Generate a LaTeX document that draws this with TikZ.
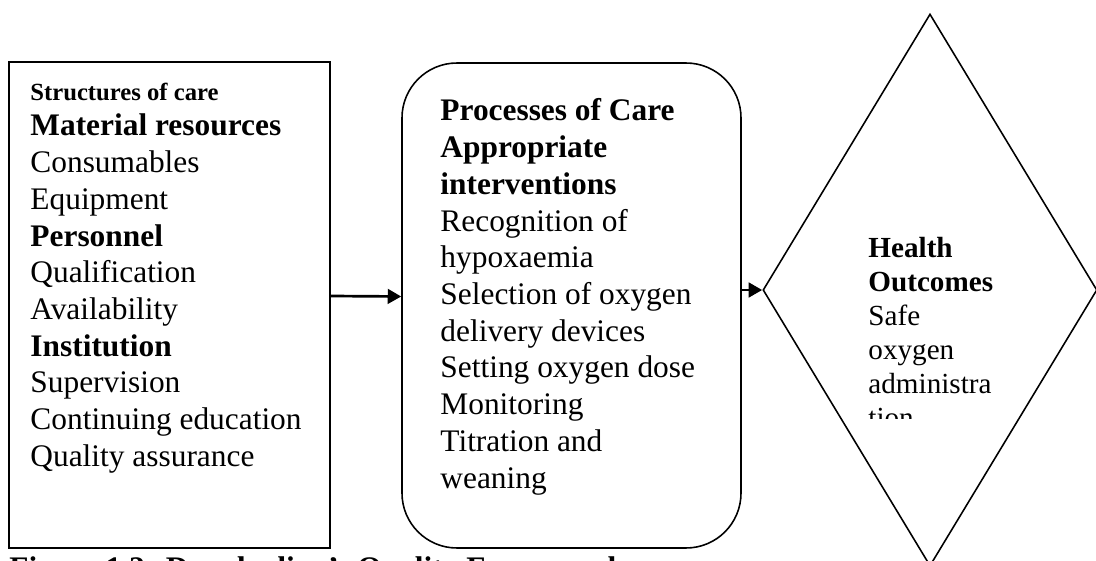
\documentclass[tikz,border=0pt]{standalone}
\usepackage{fontspec}
\setmainfont{Liberation Serif}
\usetikzlibrary{arrows.meta,positioning,shapes.geometric,calc}

\tikzset{
  boxline/.style={draw, line width=0.7pt, inner sep=0pt},
  itemtext/.style={anchor=base west, inner sep=0pt, font=\fontsize{14}{16.4}\selectfont},
  flowarrow/.style={line width=1.2pt, -{Triangle[length=6pt,width=6.5pt]}},
}

\begin{document}
\begin{tikzpicture}[x=0.446pt, y=-0.446pt]
\useasboundingbox (0,0) rectangle (1096,561);
% structures
\node[boxline, minimum width=143.2pt, minimum height=216.8pt] (structbox) at (169.5,305) {};
\node[itemtext, font=\bfseries\fontsize{11}{13}\selectfont] (s0) at (30,101) {Structures of care};
\foreach \txt [count=\i] in {\textbf{Material resources}, Consumables, Equipment, \textbf{Personnel}, Qualification, Availability, \textbf{Institution}, Supervision, Continuing education, Quality assurance}
  \node[itemtext] (s\i) at (30,{136+36.7*(\i-1)}) {\txt};
% processes
\node[boxline, rounded corners=24.5pt, minimum width=151.2pt, minimum height=216.3pt] (procbox) at (571.5,305.5) {};
\foreach \txt [count=\i] in {\textbf{Processes of Care}, \textbf{Appropriate}, \textbf{interventions}, Recognition of, hypoxaemia, Selection of oxygen, delivery devices, Setting oxygen dose, Monitoring, Titration and, weaning}
  \node[itemtext] (p\i) at (440,{121+36.7*(\i-1)}) {\txt};
% outcomes
\node[boxline, diamond, minimum width=149pt, minimum height=246.2pt] (outcome) at (930,290) {};
\begin{scope}
\clip (860,230) rectangle (1010,418);
\foreach \txt [count=\i] in {\textbf{Health}, \textbf{Outcomes}, Safe, oxygen, administra, tion}
  \node[itemtext, font=\fontsize{13}{15}\selectfont] (o\i) at (868,{257+34*(\i-1)}) {\txt};
\end{scope}
% arrows
\draw[flowarrow] ($(structbox.east)+(0,-9)$) -- ($(procbox.west)+(0,-9)$);
\draw[flowarrow] ($(procbox.east)+(0,-15.5)$) -- (outcome.west);
% caption (cut at page edge)
\node[itemtext, font=\bfseries\fontsize{14}{16.4}\selectfont] (caption) at (9,578) {Figure 1.2: Donabedian's Quality Framework};
\end{tikzpicture}
\end{document}
